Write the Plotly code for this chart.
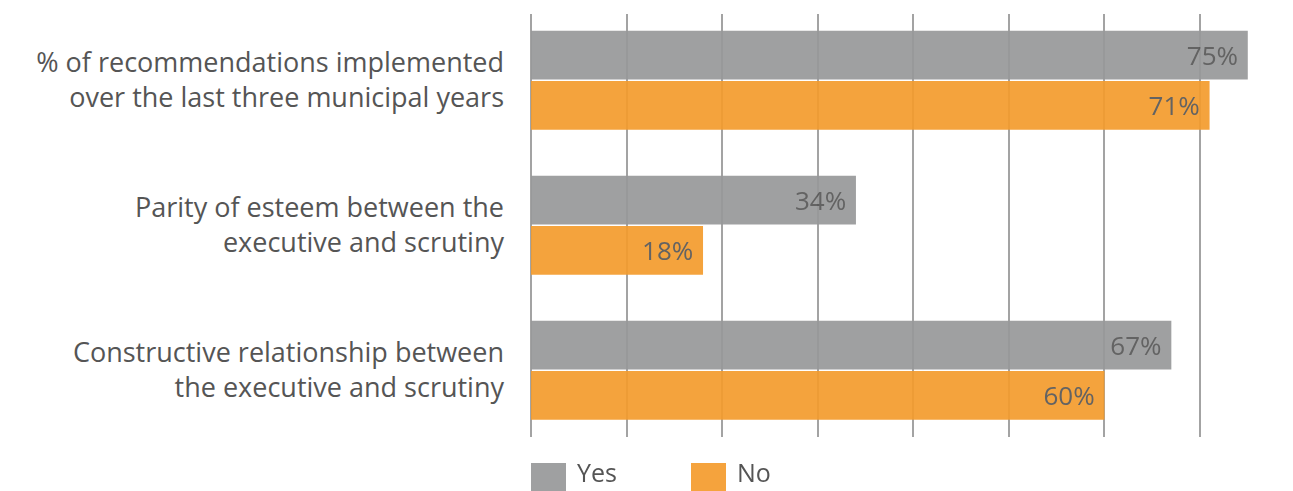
import plotly.graph_objects as go

categories = [
    "% of recommendations implemented<br>over the last three municipal years",
    "Parity of esteem between the<br>executive and scrutiny",
    "Constructive relationship between<br>the executive and scrutiny",
]
yes_values = [75, 34, 67]
no_values = [71, 18, 60]
series_names = ["Yes", "No"]
colors = ["#979899", "#F49B2C"]

FONT = "Open Sans"
TXT = "#555555"
FS = 27

fig = go.Figure()
for name, vals, col in zip(series_names, [yes_values, no_values], colors):
    fig.add_trace(go.Bar(
        y=categories, x=vals, name=name, orientation="h",
        marker=dict(color=col, line=dict(width=0)), opacity=0.92,
        text=[f"{v}%\u00a0" for v in vals], textposition="inside",
        insidetextanchor="end", textangle=0,
        textfont=dict(family=FONT, size=26, color=TXT),
        showlegend=False, hoverinfo="skip",
    ))

# custom legend (large square swatches)
leg_x = [531, 691]
for name, col, lx in zip(series_names, colors, leg_x):
    fig.add_shape(type="rect", xref="paper", yref="paper",
                  x0=(lx - 531) / 762, x1=(lx + 35 - 531) / 762,
                  y0=(437 - 492) / 423, y1=(437 - 463) / 423,
                  fillcolor=col, opacity=0.92, line=dict(width=0))
    fig.add_annotation(xref="paper", yref="paper",
                       x=(lx + 44 - 531) / 762, y=(437 - 472) / 423,
                       text=name, showarrow=False, xanchor="left", yanchor="middle",
                       font=dict(family=FONT, size=25, color=TXT))

fig.update_layout(
    width=1293, height=491,
    margin=dict(l=531, r=0, t=14, b=54),
    paper_bgcolor="white", plot_bgcolor="white",
    barmode="group", bargap=0.306, bargroupgap=0.033,
    xaxis=dict(range=[0, 79.73], dtick=10, showticklabels=False,
               showgrid=True, gridcolor="#a3a3a3", gridwidth=1.5,
               zeroline=True, zerolinecolor="#a3a3a3", zerolinewidth=1.5,
               showline=False, fixedrange=True),
    yaxis=dict(range=[2.46, -0.457], showgrid=False, zeroline=False,
               ticks="", ticklabelstandoff=26, fixedrange=True,
               tickfont=dict(family=FONT, size=FS, color=TXT)),
)

fig.write_html("out.html", config={"displayModeBar": False},
               post_script="document.body.style.margin='0';document.body.style.overflow='hidden';")
